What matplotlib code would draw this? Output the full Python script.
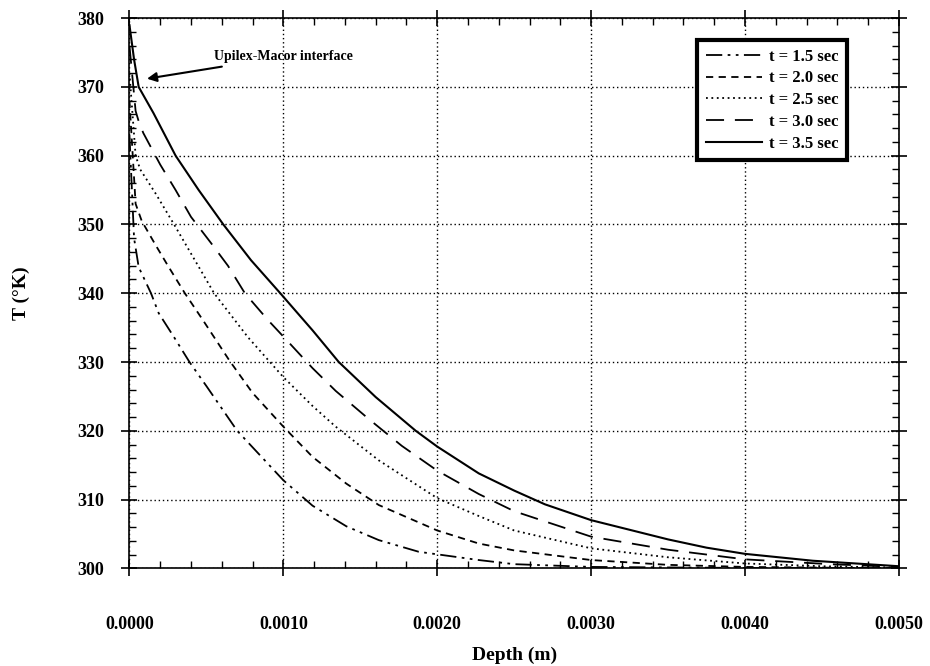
import matplotlib
matplotlib.use("Agg")
import matplotlib.pyplot as plt
from matplotlib.ticker import MultipleLocator, FormatStrFormatter

plt.rcParams['font.family'] = ['Liberation Serif', 'DejaVu Serif']
plt.rcParams['font.weight'] = 'bold'
plt.rcParams['axes.labelweight'] = 'bold'

# depth (m) / temperature (K)
d15 = [0, 0.00003, 0.00006, 0.00014, 0.00019, 0.00029, 0.00039, 0.0005, 0.0007,
       0.0010, 0.00119, 0.00141, 0.00162, 0.00188, 0.00227, 0.0025, 0.0030,
       0.0040, 0.0050]
T15 = [363, 348, 343.8, 340, 337.1, 333.6, 330, 326.5, 320,
       312.8, 309.1, 306.1, 304.1, 302.4, 301.2, 300.6, 300.2,
       300.05, 300.0]

d20 = [0, 0.00004, 0.00008, 0.00017, 0.00025, 0.00036, 0.00048, 0.00065, 0.0008,
       0.0010, 0.00119, 0.00141, 0.00162, 0.0020, 0.00227, 0.0025, 0.0030,
       0.0035, 0.0040, 0.0050]
T20 = [368, 353, 350.5, 347, 344, 340, 336, 330.2, 325.5,
       320.6, 316.2, 312.3, 309.2, 305.5, 303.6, 302.6, 301.2,
       300.5, 300.2, 300.0]

d25 = [0, 0.00004, 0.00007, 0.00017, 0.00029, 0.00042, 0.00055, 0.00077, 0.0010,
       0.00119, 0.00134, 0.00162, 0.0020, 0.00227, 0.0025, 0.0030, 0.0035,
       0.0040, 0.0045, 0.0050]
T25 = [372, 360, 358, 354.5, 350, 345, 340, 333.6, 327.8,
       323.6, 320.6, 315.7, 310.2, 307.6, 305.5, 302.9, 301.6,
       300.7, 300.3, 300.1]

d30 = [0, 0.00004, 0.00006, 0.00009, 0.0002, 0.0003, 0.0004, 0.00053, 0.00064,
       0.00075, 0.0009, 0.0010, 0.00119, 0.00134, 0.00155, 0.00177, 0.0020,
       0.00227, 0.0025, 0.0030, 0.0035, 0.0040, 0.00455, 0.0050]
T30 = [376, 366.5, 365, 363.3, 358.7, 355, 351.1, 347.3, 344,
       340, 336.1, 333.7, 329.1, 325.8, 321.8, 317.8, 314.2,
       310.8, 308.3, 304.6, 302.7, 301.3, 300.6, 300.2]

d35 = [0, 0.00003, 0.00006, 0.000156, 0.0003, 0.00045, 0.00061, 0.00079, 0.00098,
       0.00119, 0.00136, 0.0016, 0.00186, 0.0020, 0.00227, 0.0025, 0.0027,
       0.0030, 0.0035, 0.00375, 0.0040, 0.00444, 0.0050]
T35 = [379, 374, 370, 366.2, 360, 355, 350, 344.8, 340,
       334.6, 330, 324.9, 320, 317.7, 313.8, 311.3, 309.3,
       307, 304.2, 303.0, 302.1, 301.1, 300.3]

labels = ['t = 1.5 sec', 't = 2.0 sec', 't = 2.5 sec', 't = 3.0 sec', 't = 3.5 sec']

fig = plt.figure(figsize=(9.3, 6.66), dpi=100)
ax = fig.add_axes([0.1392, 0.1467, 0.8274, 0.826])

ax.plot(d15, T15, color='black', lw=1.3, dashes=(9, 3, 1.5, 3, 1.5, 3), label=labels[0])
ax.plot(d20, T20, color='black', lw=1.3, dashes=(4, 3), label=labels[1])
ax.plot(d25, T25, color='black', lw=1.3, dashes=(1, 2), label=labels[2])
ax.plot(d30, T30, color='black', lw=1.3, dashes=(10, 6), label=labels[3])
ax.plot(d35, T35, color='black', lw=1.5, label=labels[4])

ax.set_xlim(0, 0.005)
ax.set_ylim(300, 380)
ax.xaxis.set_major_locator(MultipleLocator(0.001))
ax.xaxis.set_minor_locator(MultipleLocator(0.0002))
ax.yaxis.set_major_locator(MultipleLocator(10))
ax.yaxis.set_minor_locator(MultipleLocator(2))
ax.xaxis.set_major_formatter(FormatStrFormatter('%.4f'))

ax.grid(True, which='major', color='black', linestyle=(0, (1, 2)), lw=1)
ax.tick_params(which='major', direction='inout', length=12, width=1.2,
               top=True, right=True, labelsize=13)
ax.tick_params(which='minor', direction='in', length=5, width=1,
               top=True, right=True)
ax.tick_params(axis='x', which='major', pad=28)
ax.tick_params(axis='y', which='major', pad=12)
for s in ax.spines.values():
    s.set_linewidth(1.2)

ax.set_xlabel('Depth (m)', fontsize=14, labelpad=10)
ax.set_ylabel('T (°K)', fontsize=14, labelpad=34)

ax.annotate('Upilex-Macor interface', xy=(0.000114, 371.2), xytext=(0.00055, 374.4),
            fontsize=10, va='center', ha='left',
            arrowprops=dict(arrowstyle='-|>', color='black', lw=1.5,
                            mutation_scale=14, shrinkA=3, shrinkB=0))

leg = ax.legend(loc='upper right', bbox_to_anchor=(0.9324, 0.96), borderaxespad=0,
                fontsize=12, handlelength=3.4, fancybox=False, framealpha=1,
                borderpad=0.5, labelspacing=0.35, handletextpad=0.4)
leg.get_frame().set_edgecolor('black')
leg.get_frame().set_linewidth(3)

fig.savefig('out.png', dpi=100)
